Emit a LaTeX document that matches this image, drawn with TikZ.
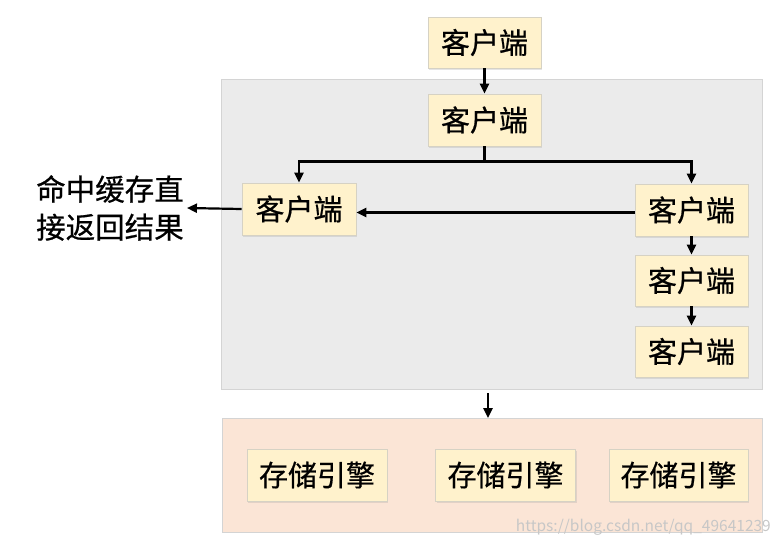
\documentclass[tikz,border=0pt]{standalone}
\usepackage{fontspec}
\setmainfont{Noto Sans CJK SC}
\newfontfamily\cjkb[FakeBold=0.6]{Noto Sans CJK SC}
\usetikzlibrary{arrows.meta,shadows}
\definecolor{nodefill}{HTML}{FFF2CC}
\definecolor{nodeline}{HTML}{D6D2C4}
\definecolor{grayfill}{HTML}{EBEBEB}
\definecolor{grayline}{HTML}{D4D4D4}
\definecolor{peachfill}{HTML}{FBE5D6}
\tikzset{
  box/.style={draw=nodeline, line width=0.8pt, fill=nodefill, minimum width=113pt, minimum height=51pt, inner sep=0pt,
    font=\cjkb\fontsize{29}{34}\selectfont,
    drop shadow={shadow xshift=1pt, shadow yshift=-1.5pt, opacity=0.25, fill=black!40}},
  sbox/.style={box, minimum width=140pt, minimum height=52pt},
  region/.style={draw=grayline, line width=0.8pt, inner sep=0pt},
  arr/.style={line width=2.2pt, -{Triangle[length=10pt,width=9pt]}},
  ln/.style={line width=2.2pt}
}
\begin{document}
\begin{tikzpicture}[x=1pt,y=-1pt]
\useasboundingbox (0,0) rectangle (777,547);
% regions
\node[region, fill=grayfill, minimum width=541pt, minimum height=309.5pt] (gray) at (491.5,234.25) {};
\node[region, fill=peachfill, minimum width=540pt, minimum height=113.5pt] (peach) at (492,475.25) {};
% client nodes
\node[box] (c0) at (484.5,42.5) {客户端};
\node[box, minimum height=52pt] (c1) at (484.5,120) {客户端};
\node[box, minimum width=114pt, minimum height=52pt] (l1) at (299,209) {客户端};
\node[box, minimum height=52pt] (r1) at (691.5,210) {客户端};
\node[box] (r2) at (691.5,280.5) {客户端};
\node[box] (r3) at (691.5,351.5) {客户端};
% storage nodes
\node[sbox] (s1) at (317,475) {存储引擎};
\node[sbox] (s2) at (505.5,475) {存储引擎};
\node[sbox, minimum width=139pt] (s3) at (678.5,475) {存储引擎};
% side text
\node[align=center, font=\cjkb\fontsize{29.5}{38}\selectfont, inner sep=3pt] (txt) at (110,208) {命中缓存直\\接返回结果};
% connectors
\draw[arr] (c0.south) -- (c1.north);
\coordinate (bj) at (484.5,161.5);
\draw[ln] (c1.south) -- (bj);
\draw[arr] (bj) -| (l1.north);
\draw[arr] (bj) -| (r1.north);
\draw[arr] (r1.west |- 0,212.5) -- (l1.east |- 0,212.5);
\draw[arr] (l1.west) -- (txt.east);
\draw[arr] (r1.south) -- (r2.north);
\draw[arr] (r2.south) -- (r3.north);
\coordinate (ga) at (488,393);
\draw[arr] (ga) -- (ga |- peach.north);
% watermark
\node[anchor=east, font=\fontsize{15.5}{18}\selectfont, inner sep=0pt, text=black!22] (wm) at (771,527) {https://blog.csdn.net/qq\_49641239};
\end{tikzpicture}
\end{document}
